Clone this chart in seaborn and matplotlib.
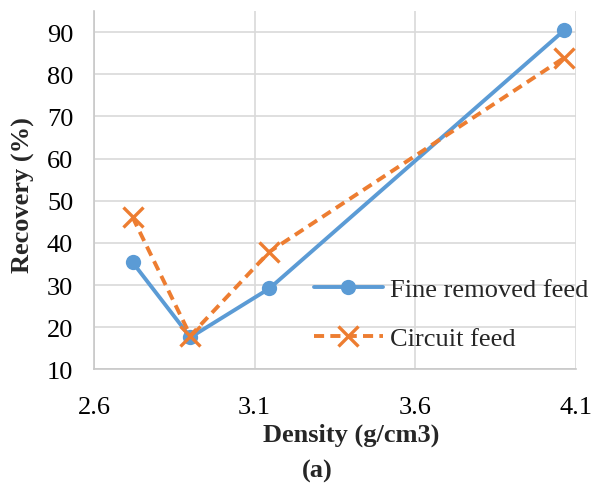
import matplotlib
matplotlib.use("Agg")
import matplotlib.pyplot as plt
import seaborn as sns
import pandas as pd

density = [2.72, 2.90, 3.146, 4.063]
fine_removed = [35.4, 17.6, 29.2, 90.4]
circuit = [46.1, 18.0, 37.9, 83.9]
x_ticks = [2.6, 3.1, 3.6, 4.1]
y_ticks = [10, 20, 30, 40, 50, 60, 70, 80, 90]

sns.set_theme(style="white")
plt.rcParams['font.family'] = ['Liberation Serif', 'DejaVu Serif']

fig = plt.figure(figsize=(6.05, 4.89), dpi=100)
ax = fig.add_axes([94/605, 1-370.4/489, (576-94)/605, (370.4-12)/489])

BLUE = "#5B9BD5"
ORANGE = "#ED7D31"
df1 = pd.DataFrame({"x": density, "y": fine_removed})
df2 = pd.DataFrame({"x": density, "y": circuit})
sns.lineplot(data=df1, x="x", y="y", ax=ax, color=BLUE, lw=2.8,
             marker="o", markersize=11, markeredgewidth=0, markerfacecolor=BLUE,
             label="Fine removed feed")
sns.lineplot(data=df2, x="x", y="y", ax=ax, color=ORANGE, lw=2.8,
             linestyle=(0, (2.6, 1.6)), marker="x", markersize=14, markeredgewidth=2.4,
             markeredgecolor=ORANGE, label="Circuit feed")

ax.set_xlim(2.6, 4.1)
ax.set_ylim(10, 95)
ax.set_xticks(x_ticks)
ax.set_xticklabels([f"{v:.1f}" for v in x_ticks])
ax.set_yticks(y_ticks)
ax.grid(True, color="#D9D9D9", lw=1.2)
for s in ["top", "right"]:
    ax.spines[s].set_visible(False)
for s in ["left", "bottom"]:
    ax.spines[s].set_color("#C8C8C8")
    ax.spines[s].set_linewidth(1.2)
ax.tick_params(axis="both", labelsize=19, length=0, colors="black")
ax.tick_params(axis="y", pad=15)
ax.tick_params(axis="x", pad=19)
ax.set_xlabel("")
ax.set_ylabel("")
fig.text(351/605, 1-435/489, "Density (g/cm3)", ha="center", va="center",
         fontsize=19, fontweight="bold")
fig.text(23/605, 1-195/489, "Recovery (%)", ha="center", va="center",
         fontsize=19, fontweight="bold", rotation=90)
fig.text(317/605, 1-471/489, "(a)", ha="center", va="center",
         fontsize=19, fontweight="bold")

leg = ax.legend(loc="upper left", bbox_to_anchor=(314/605, 1-279/489), bbox_transform=fig.transFigure,
                frameon=False, fontsize=19, handlelength=2.6, labelspacing=0.95,
                handletextpad=0.27, borderpad=0, borderaxespad=0)

fig.savefig("out.png", dpi=100)
